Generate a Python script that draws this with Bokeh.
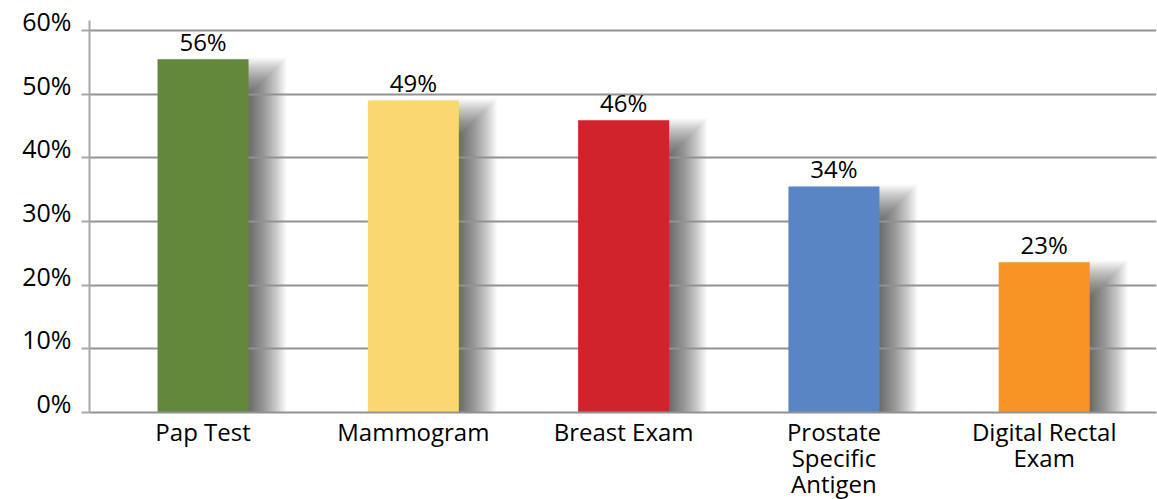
import numpy as np
from bokeh.plotting import figure
from bokeh.models import Range1d, FixedTicker, PrintfTickFormatter, ColumnDataSource, LinearAxis
from bokeh.core.properties import value
from bokeh.embed import file_html
from bokeh.resources import INLINE

categories = ["Pap Test", "Mammogram", "Breast Exam",
              "Prostate\nSpecific\nAntigen", "Digital Rectal\nExam"]
heights = [55.5, 49.0, 45.9, 35.5, 23.6]
labels = ["56%", "49%", "46%", "34%", "23%"]
colors = ["#62883B", "#FAD86F", "#D0232B", "#5886C5", "#F79425"]
y_ticks = [0, 10, 20, 30, 40, 50, 60]

FONT = "Open Sans"
FRAME_W = 1067
X0, X1 = -0.54, 4.534
XPX = FRAME_W / (X1 - X0)
YPX = 382 / 60.0
TOP_PAD = 10
FRAME_H = 382 + TOP_PAD
Y0, Y1 = 0, 60 + TOP_PAD / YPX
LABEL_SHIFT = 9.5 / YPX
BAR_PX = 91

x = np.arange(len(categories))
src = ColumnDataSource(dict(x=x, top=heights, color=colors, label=labels))

p = figure(frame_width=FRAME_W, frame_height=FRAME_H,
           x_range=Range1d(X0, X1), y_range=Range1d(Y0, Y1),
           output_backend="svg", toolbar_location=None,
           min_border_left=89, min_border_right=1,
           min_border_top=20, min_border_bottom=87)
p.outline_line_color = None
p.background_fill_color = "white"
p.border_fill_color = "white"

# soft drop shadows (stacked translucent layers)
hs = np.array(heights)
DX, DY = 20, 16
for e in range(-18, 19, 1):
    p.vbar(x=x + DX / XPX, width=(BAR_PX + 2 * e) / XPX,
           top=hs - (DY - e) / YPX, bottom=Y0 - 5,
           fill_color="black", fill_alpha=0.018, line_color=None, level="underlay")

p.vbar(x="x", top="top", bottom=0, width=BAR_PX / XPX, fill_color="color",
       line_color=None, source=src)

p.text(x="x", y="top", text="label", source=src, text_align="center",
       text_baseline="alphabetic", y_offset=-18, text_font=value(FONT),
       text_font_size="24px", text_color="black")

# grid
p.xgrid.visible = False
p.ygrid.ticker = FixedTicker(ticks=y_ticks)
p.ygrid.grid_line_color = "#929296"
p.ygrid.grid_line_width = 2

# main y axis: line and ticks only
ya = p.yaxis[0]
ya.ticker = FixedTicker(ticks=y_ticks)
ya.major_label_overrides = {t: "" for t in y_ticks}
ya.major_label_standoff = 0
ya.axis_line_color = "#a8a8ac"
ya.axis_line_width = 2
ya.major_tick_out = 8
ya.major_tick_in = 0
ya.major_tick_line_color = "#a8a8ac"
ya.major_tick_line_width = 2
ya.minor_tick_line_color = None

# label axis on a shifted range, so the labels sit just above the gridlines
p.extra_y_ranges = {"lab": Range1d(Y0 - LABEL_SHIFT, Y1 - LABEL_SHIFT)}
la = LinearAxis(y_range_name="lab", ticker=FixedTicker(ticks=y_ticks),
                formatter=PrintfTickFormatter(format="%d%%"))
la.axis_line_color = None
la.major_tick_line_color = None
la.minor_tick_line_color = None
la.major_tick_out = 0
la.major_tick_in = 0
la.major_label_standoff = 10
la.major_label_text_font = FONT
la.major_label_text_font_size = "25px"
la.major_label_text_color = "black"
p.add_layout(la, "left")

# x axis
xa = p.xaxis[0]
xa.ticker = FixedTicker(ticks=[int(i) for i in x])
xa.major_label_overrides = {int(i): c for i, c in zip(x, categories)}
xa.axis_line_color = "#929296"
xa.axis_line_width = 2
xa.major_tick_out = 0
xa.major_tick_in = 0
xa.minor_tick_line_color = None
xa.major_label_standoff = 2
xa.major_label_text_font = FONT
xa.major_label_text_font_size = "24px"
xa.major_label_text_color = "black"
xa.major_label_text_line_height = 0.8

open("out.html", "w").write(file_html(p, INLINE))
